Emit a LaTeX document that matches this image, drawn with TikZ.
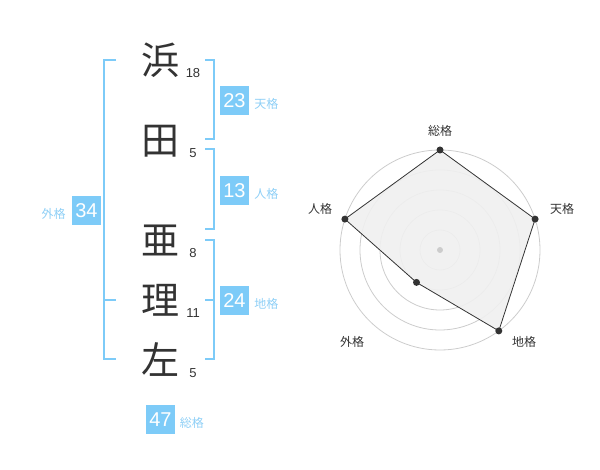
\documentclass[tikz,border=0pt]{standalone}
\usepackage{fontspec}
\setmainfont{Liberation Sans}
\newfontfamily\cjk{Noto Sans CJK JP}
\definecolor{skyb}{HTML}{7DCBF8}
\definecolor{skyt}{HTML}{8ECFF6}
\definecolor{ink}{HTML}{333333}
\definecolor{ring}{HTML}{CCCCCC}
\begin{document}
\begin{tikzpicture}[x=1pt,y=-1pt,
  kanji/.style={font=\cjk\fontsize{38}{38}\selectfont, text=ink, inner sep=0pt},
  strokes/.style={font=\fontsize{13}{13}\selectfont, text=ink, inner sep=0pt},
  valbox/.style={fill=skyb, text=white, minimum width=29pt, minimum height=29pt, inner sep=0pt, font=\fontsize{20}{20}\selectfont},
  kaku/.style={font=\cjk\fontsize{12}{12}\selectfont, text=skyt, inner sep=0pt},
  brk/.style={draw=skyb, line width=2pt},
  rlab/.style={font=\cjk\fontsize{12}{12}\selectfont, text=ink, inner sep=0pt},
  ringc/.style={draw=ring, line width=0.8pt},
  dot/.style={circle, fill=ink, inner sep=0pt, minimum size=7pt}]
\useasboundingbox (0,0) rectangle (600,470);
% kanji
\node[kanji] (k1) at (160,60) {浜};
\node[kanji] (k2) at (160,141) {田};
\node[kanji] (k3) at (160,240) {亜};
\node[kanji] (k4) at (160,300) {理};
\node[kanji] (k5) at (160,360) {左};
\node[strokes] (s1) at (193,73) {18};
\node[strokes] (s2) at (193,153) {5};
\node[strokes] (s3) at (193,253) {8};
\node[strokes] (s4) at (193,313) {11};
\node[strokes] (s5) at (193,373) {5};
% brackets
\draw[brk] (205,60) -- (214,60) -- (214,139.5) -- (205,139.5);
\draw[brk] (205,149.5) -- (214,149.5) -- (214,229.5) -- (205,229.5);
\draw[brk] (205,240) -- (214,240) -- (214,359.5) -- (205,359.5);
\draw[brk] (205,300) -- (214,300);
\draw[brk] (116,60) -- (104,60) -- (104,359.5) -- (116,359.5);
\draw[brk] (104,300) -- (116,300);
% value boxes
\node[valbox] (v1) at (234.5,100.5) {23};
\node[kaku, anchor=west] (l1) at ([xshift=5pt,yshift=-3.5pt]v1.east) {天格};
\node[valbox] (v2) at (234.5,190.5) {13};
\node[kaku, anchor=west] (l2) at ([xshift=5pt,yshift=-3.5pt]v2.east) {人格};
\node[valbox] (v3) at (234.5,300.5) {24};
\node[kaku, anchor=west] (l3) at ([xshift=5pt,yshift=-3.5pt]v3.east) {地格};
\node[valbox] (v4) at (86.5,210.5) {34};
\node[kaku, anchor=east] (l4) at ([xshift=-6pt,yshift=-3.5pt]v4.west) {外格};
\node[valbox] (v5) at (160.5,419.5) {47};
\node[kaku, anchor=west] (l5) at ([xshift=4.5pt,yshift=-3.5pt]v5.east) {総格};
% radar
\coordinate (c) at (440,250);
\foreach \r in {20,40,60,80,100} \draw[ringc] (c) circle[radius=\r];
\coordinate (pS) at (440,150);
\coordinate (pT) at (535.1,219.1);
\coordinate (pC) at (498.8,330.9);
\coordinate (pG) at (416.5,282.4);
\coordinate (pJ) at (344.9,219.1);
\draw[ink, line width=0.8pt, fill=black!6, fill opacity=0.9] (pS) -- (pT) -- (pC) -- (pG) -- (pJ) -- cycle;
\node[dot] (dS) at (pS) {};
\node[dot] (dT) at (pT) {};
\node[dot] (dC) at (pC) {};
\node[dot] (dG) at (pG) {};
\node[dot] (dJ) at (pJ) {};
\node[circle, fill=ring, inner sep=0pt, minimum size=6pt] (cc) at (c) {};
\node[rlab] (rS) at (440,131) {総格};
\node[rlab] (rT) at (562,209) {天格};
\node[rlab] (rC) at (524,342) {地格};
\node[rlab] (rG) at (352,342) {外格};
\node[rlab] (rJ) at (320,209) {人格};
\end{tikzpicture}
\end{document}
